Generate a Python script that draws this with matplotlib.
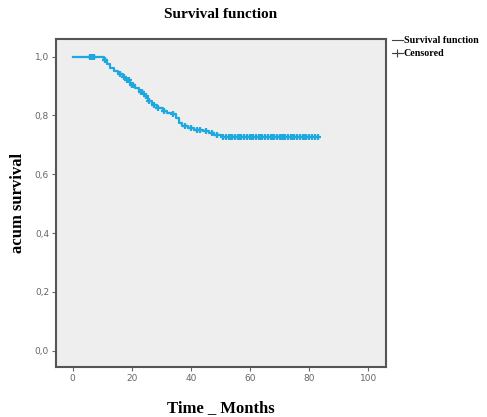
import numpy as np
import matplotlib.pyplot as plt
from matplotlib.lines import Line2D

# Kaplan-Meier steps (time in months, survival after step)
event_times = [0, 10.5, 11.5, 12.5, 14, 15.5, 17, 18, 19.5, 21, 22.5, 24, 25.5,
               27, 28.5, 30.5, 32, 33.5, 35, 36, 37, 39, 41, 44, 46, 48, 50.5]
survival = [1.0, 0.99, 0.975, 0.96, 0.95, 0.94, 0.93, 0.92, 0.905, 0.895, 0.88,
            0.865, 0.85, 0.835, 0.825, 0.815, 0.81, 0.805, 0.79, 0.775, 0.765,
            0.758, 0.752, 0.748, 0.74, 0.735, 0.728]
end_time = 83

censored_times = [6, 6.3, 6.6, 6.9, 7.2, 11, 16, 17.5, 18.5, 19, 20, 20.5, 23,
                  23.5, 25, 26, 27.5, 29, 31, 34, 38, 40, 42, 43, 45, 47, 49,
                  51, 52, 53, 53.5, 54, 55, 56, 56.5, 57, 58, 59, 60, 60.5, 61,
                  62, 63, 63.5, 64, 65, 66, 67, 67.5, 68, 69, 70, 70.5, 71, 72,
                  73, 74, 74.5, 75, 76, 77, 78, 78.5, 79, 80, 81, 82, 83]

x_ticks = [0, 20, 40, 60, 80, 100]
y_ticks = [0.0, 0.2, 0.4, 0.6, 0.8, 1.0]
y_tick_labels = ["0,0", "0,2", "0,4", "0,6", "0,8", "1,0"]

curve_color = "#1da8e0"
serif = "Liberation Serif"

fig = plt.figure(figsize=(4.87, 4.17), dpi=100)
ax = fig.add_axes([56 / 487, 1 - 367 / 417, 330 / 487, 328 / 417])
ax.set_facecolor("#eeeeee")

t = np.array(event_times + [end_time])
s = np.array(survival + [survival[-1]])
ax.step(t, s, where="post", color=curve_color, lw=1.6)

idx = np.searchsorted(event_times, censored_times, side="right") - 1
cens_s = np.array(survival)[idx]
ax.plot(censored_times, cens_s, ls="none", marker="+", ms=5, mew=1.6,
        color=curve_color)

ax.set_xlim(-5.6, 106)
ax.set_ylim(-0.055, 1.06)
ax.set_xticks(x_ticks)
ax.set_yticks(y_ticks)
ax.set_yticklabels(y_tick_labels)
ax.tick_params(direction="out", length=3, width=0.8, colors="#666666",
               labelsize=6.5, pad=2)
for sp in ax.spines.values():
    sp.set_color("#555555")
    sp.set_linewidth(1.5)

ax.set_title("Survival function", fontfamily=serif, fontweight="bold",
             fontsize=11, pad=15)
ax.set_xlabel("Time _ Months", fontfamily=serif, fontweight="bold",
              fontsize=12, labelpad=12)
ax.set_ylabel("acum survival", fontfamily=serif, fontweight="bold",
              fontsize=12, labelpad=6)

handles = [Line2D([], [], color="#444444", lw=0.8),
           Line2D([], [], color="#444444", lw=0.8, marker="+", ms=6, mew=0.8)]
ax.legend(handles, ["Survival function", "Censored"], loc="upper left",
          bbox_to_anchor=(1.0, 1.025), frameon=False, handlelength=1.1,
          handletextpad=0.1, labelspacing=0.4, borderaxespad=0.15,
          prop={"family": serif, "weight": "bold", "size": 7.2})

fig.savefig("out.png", dpi=100, facecolor="white")
